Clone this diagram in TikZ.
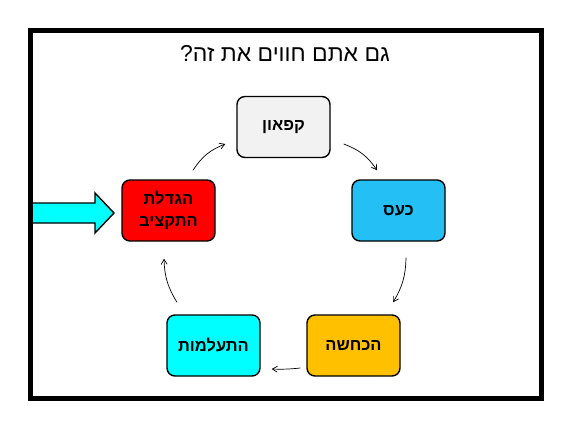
\documentclass[tikz,border=0pt]{standalone}
\usepackage{fontspec}
\setmainfont{Liberation Sans}
\newfontfamily\heb[Script=Hebrew]{Liberation Sans}
\TeXXeTstate=1
\usetikzlibrary{arrows.meta}
\definecolor{cgray}{RGB}{242,242,242}
\definecolor{cblue}{RGB}{35,191,245}
\definecolor{corange}{RGB}{255,192,0}
\definecolor{ccyan}{RGB}{0,255,255}
\definecolor{cred}{RGB}{255,0,0}
\tikzset{
  box/.style={draw=black, line width=1.4pt, rounded corners=8pt, minimum width=93pt, minimum height=61pt, inner sep=0pt, align=center, font=\heb\bfseries\fontsize{16.5}{22}\selectfont},
  conn/.style={-{Straight Barb[length=5pt,width=6pt]}, line width=0.7pt, black},
  blockarrow/.style={draw=black, line width=1.4pt, fill=ccyan, line join=miter},
}
\begin{document}
\begin{tikzpicture}[x=1pt,y=1pt]
\useasboundingbox (0,0) rectangle (567,424);
\fill[white] (0,0) rectangle (567,424);
\node[font=\heb\fontsize{23}{26}\selectfont] (title) at (285,371) {\beginR גם אתם חווים את זה?\endR};
\node[box, fill=cgray] (kip) at (283.5,297) {\beginR קפאון\endR};
\node[box, fill=cblue] (kaas) at (398.5,213.5) {\beginR כעס\endR};
\node[box, fill=corange] (hak) at (353.5,78.5) {\beginR הכחשה\endR};
\node[box, fill=ccyan] (hit) at (213.5,78.5) {\beginR התעלמות\endR};
\node[box, fill=cred] (red) at (168.5,213.5) {\beginR הגדלת\endR\\\beginR התקציב\endR};
\draw[conn] ([xshift=24.5pt,yshift=9pt]red.north) to[bend left=18] ([xshift=-11pt,yshift=-17pt]kip.west);
\draw[conn] ([xshift=13pt,yshift=-17pt]kip.east) to[bend left=18] ([xshift=-21.5pt,yshift=9pt]kaas.north);
\draw[conn] ([xshift=7.5pt,yshift=-16pt]kaas.south) to[bend left=15] ([xshift=39.5pt,yshift=12pt]hak.north);
\draw[conn] ([xshift=-6pt,yshift=-22.5pt]hak.west) to[bend left=4] ([xshift=11pt,yshift=-23.5pt]hit.east);
\draw[conn] ([xshift=-36.5pt,yshift=12pt]hit.north) to[bend left=15] ([xshift=-4.5pt,yshift=-17pt]red.south);
\draw[blockarrow] (32,221) -- (95,221) -- (95,231) -- (114,211) -- (95,191) -- (95,201) -- (32,201) -- cycle;
\draw[line width=5pt] (30,393) rectangle (541.5,26);
\end{tikzpicture}
\end{document}
